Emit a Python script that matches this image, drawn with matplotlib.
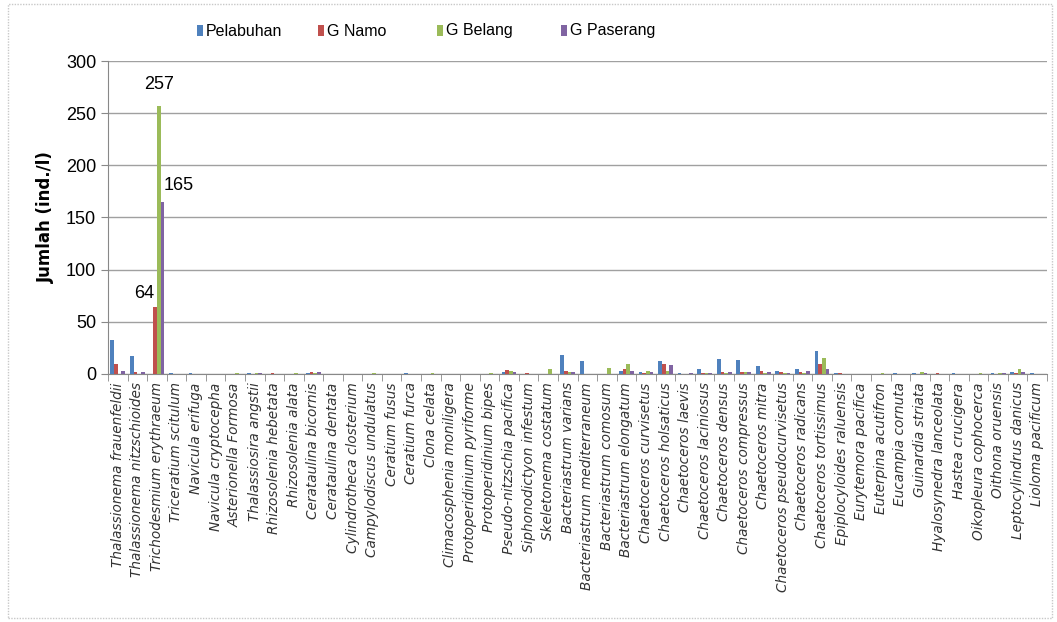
import matplotlib
matplotlib.use("Agg")
import matplotlib.pyplot as plt
import numpy as np
from matplotlib.patches import Rectangle

species = [
    "Thalassionema frauenfeldii", "Thalassionema nitzschioides", "Trichodesmium erythraeum",
    "Triceratium scitulum", "Navicula erifuga", "Navicula cryptocepha",
    "Asterionella Formosa", "Thalassiosira angstii", "Rhizosolenia hebetata",
    "Rhizosolenia alata", "Cerataulina bicornis", "Cerataulina dentata",
    "Cylindrotheca closterium", "Campylodiscus undulatus", "Ceratium fusus",
    "Ceratium furca", "Clona celata", "Climacosphenia moniligera",
    "Protoperidinium pyriforme", "Protoperidinium bipes", "Pseudo-nitzschia pacifica",
    "Siphonodictyon infestum", "Skeletonema costatum", "Bacteriastrum varians",
    "Bacteriastrum mediterraneum", "Bacteriastrum comosum", "Bacteriastrum elongatum",
    "Chaetoceros curvisetus", "Chaetoceros holsaticus", "Chaetoceros laevis",
    "Chaetoceros laciniosus", "Chaetoceros densus", "Chaetoceros compressus",
    "Chaetoceros mitra", "Chaetoceros pseudocurvisetus", "Chaetoceros radicans",
    "Chaetoceros tortissimus", "Epiplocyloides raluensis", "Eurytemora pacifica",
    "Euterpina acutifron", "Eucampia cornuta", "Guinardia striata",
    "Hyalosynedra lanceolata", "Hastea crucigera", "Oikopleura cophocerca",
    "Oithona oruensis", "Leptocylindrus danicus", "Lioloma pacificum",
]

series_names = ["Pelabuhan", "G Namo", "G Belang", "G Paserang"]

pelabuhan = [33, 17, 0, 1, 1, 0, 0, 1, 0, 0, 1, 0,
             0, 0, 0, 1, 0, 0, 0, 0, 2, 0, 0, 18,
             12, 0, 3, 2, 12, 1, 5, 14, 13, 8, 3, 5,
             22, 1, 0, 0, 1, 1, 0, 1, 0, 1, 2, 1]
g_namo = [10, 2, 64, 0, 0, 0, 0, 0, 1, 0, 2, 0,
          0, 0, 0, 0, 0, 0, 0, 0, 4, 1, 0, 3,
          0, 0, 5, 1, 10, 0, 1, 2, 2, 3, 2, 2,
          10, 1, 0, 0, 0, 0, 1, 0, 0, 0, 1, 0]
g_belang = [0, 0, 257, 0, 0, 0, 1, 1, 0, 1, 1, 0,
            0, 1, 0, 0, 1, 0, 0, 1, 3, 0, 5, 2,
            0, 6, 10, 3, 3, 0, 1, 1, 2, 1, 1, 1,
            15, 0, 0, 1, 0, 2, 0, 0, 1, 1, 5, 0]
g_paserang = [3, 2, 165, 0, 0, 0, 0, 1, 0, 0, 2, 0,
              0, 0, 0, 0, 0, 0, 0, 0, 2, 0, 0, 2,
              0, 0, 3, 2, 9, 1, 1, 2, 2, 2, 1, 3,
              5, 0, 0, 0, 0, 1, 0, 0, 0, 1, 2, 0]

colors = ["#4F81BD", "#C0504D", "#9BBB59", "#8064A2"]
yticks = [0, 50, 100, 150, 200, 250, 300]

plt.rcParams["font.family"] = ["Liberation Sans", "DejaVu Sans"]

W, H = 1057, 622
fig = plt.figure(figsize=(W / 100, H / 100), dpi=100)
ax = fig.add_axes([108 / W, 1 - 374 / H, (1047 - 108) / W, (374 - 61) / H])

# outer chart frame
fig.patches.append(Rectangle((8 / W, 4 / H), 1044 / W, 614 / H,
                             transform=fig.transFigure, fill=False,
                             edgecolor="#c8c8c8", linewidth=1.0, linestyle=(0, (1, 1))))

x = np.arange(len(species))
width = 0.19
all_series = [pelabuhan, g_namo, g_belang, g_paserang]
offsets = [-1.5, -0.5, 0.5, 1.5]
for vals, name, col, off in zip(all_series, series_names, colors, offsets):
    ax.bar(x + off * width, vals, width=width, color=col, label=name, zorder=3)

# value labels on the dominant species
ax.text(x[2] + 0.5 * width, g_belang[2] + 12, str(g_belang[2]), ha="center", va="bottom", fontsize=13)
ax.text(x[2] + 1.5 * width + 0.05, g_paserang[2] + 8, str(g_paserang[2]), ha="left", va="bottom", fontsize=13)
ax.text(x[2] - 0.5 * width - 0.05, g_namo[2] + 5, str(g_namo[2]), ha="right", va="bottom", fontsize=13)

ax.set_xlim(-0.5, len(species) - 0.5)
ax.set_ylim(0, 300)
ax.set_yticks(yticks)
ax.set_yticklabels([str(v) for v in yticks], fontsize=13)
ax.yaxis.grid(True, color="#a0a0a0", linewidth=1.0, zorder=0)
ax.set_axisbelow(True)

ax.set_xticks(np.arange(len(species) + 1) - 0.5, minor=True)
ax.set_xticks(x)
ax.set_xticklabels(species, rotation=90, fontsize=9.8, style="italic",
                   family=["DejaVu Sans"], color="#333333")
ax.tick_params(axis="x", which="major", length=0, pad=6)
ax.tick_params(axis="x", which="minor", length=5, color="#888888")
ax.tick_params(axis="y", length=5, color="#888888")

for side in ["top", "right"]:
    ax.spines[side].set_visible(False)
ax.spines["left"].set_color("#888888")
ax.spines["bottom"].set_color("#888888")

ax.set_ylabel("Jumlah (ind./l)", fontsize=12, fontweight="bold", family=["DejaVu Sans"], labelpad=8)

# legend entries across the top
legend_x = [197, 318, 437, 561]
legend_y = 31
for px, name, col in zip(legend_x, series_names, colors):
    fig.patches.append(Rectangle((px / W, 1 - (legend_y + 5) / H), 6 / W, 11 / H,
                                 transform=fig.transFigure, facecolor=col, edgecolor="none"))
    fig.text((px + 9) / W, 1 - legend_y / H, name, ha="left", va="center", fontsize=11.5)

fig.savefig("out.png", dpi=100)
